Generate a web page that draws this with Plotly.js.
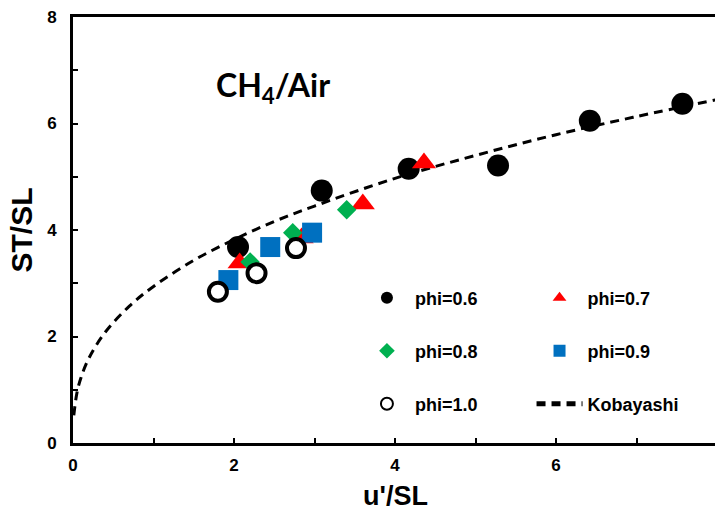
<!DOCTYPE html>
<html>
<head>
<meta charset="utf-8">
<script src="https://cdn.plot.ly/plotly-3.0.1.min.js"></script>
<style>
html,body{margin:0;padding:0;overflow:hidden;background:#fff;}
#chart{width:717px;height:513px;}
</style>
</head>
<body>
<div id="chart"></div>
<script>
// Data
const phi06_x = [2.05, 3.09, 4.17, 5.28, 6.42, 7.57];
const phi06_y = [3.68, 4.74, 5.15, 5.21, 6.05, 6.37];
const phi07_x = [2.07, 2.84, 3.60, 4.36];
const phi07_y = [3.38, 3.85, 4.49, 5.26];
const phi08_x = [2.20, 2.73, 3.40];
const phi08_y = [3.40, 3.95, 4.38];
const phi09_x = [1.93, 2.45, 2.97];
const phi09_y = [3.06, 3.68, 3.95];
const phi10_x = [1.80, 2.28, 2.77];
const phi10_y = [2.84, 3.19, 3.66];
const koba_x = [0.01, 0.05, 0.1, 0.2, 0.4, 0.7, 1.0, 1.5, 2.0, 2.5, 3.0, 4.0, 5.0, 6.0, 7.0, 8.0];
const koba_y = [0.52, 0.95, 1.23, 1.60, 2.08, 2.57, 2.94, 3.43, 3.82, 4.16, 4.45, 4.97, 5.40, 5.79, 6.13, 6.45];
const xTicks = [0, 2, 4, 6, 8];
const yTicks = [0, 2, 4, 6, 8];
const xTitle = "u'/SL";
const yTitle = 'ST/SL';

const traces = [
  {x: koba_x, y: koba_y, name: 'Kobayashi', mode: 'lines', legend: 'legend6', line: {shape: 'spline',
   color: '#000000', width: 3, dash: '9px,6px'}},
  {x: phi06_x, y: phi06_y, name: 'phi=0.6', mode: 'markers', legend: 'legend',
   marker: {symbol: 'circle', size: 22, color: '#000000'}},
  {x: phi07_x, y: phi07_y, name: 'phi=0.7', mode: 'markers', legend: 'legend2',
   marker: {symbol: 'triangle-up', size: 21, color: '#ff0000'}},
  {x: phi08_x, y: phi08_y, name: 'phi=0.8', mode: 'markers', legend: 'legend3',
   marker: {symbol: 'diamond', size: 15, color: '#00b050'}},
  {x: phi09_x, y: phi09_y, name: 'phi=0.9', mode: 'markers', legend: 'legend4',
   marker: {symbol: 'square', size: 20, color: '#0070c0'}},
  {x: phi10_x, y: phi10_y, name: 'phi=1.0', mode: 'markers', legend: 'legend5',
   marker: {symbol: 'circle', size: 18, color: '#ffffff', line: {color: '#000000', width: 4}}}
];

const legFont = {family: 'Liberation Sans, Arial, sans-serif', size: 18, color: '#000', weight: 'bold'};
function leg(x, y) {
  return {orientation: 'v', x: x, y: y, xref: 'paper', yref: 'paper', xanchor: 'left', yanchor: 'middle',
    itemwidth: 46, itemsizing: 'constant',
    font: legFont, bgcolor: 'rgba(0,0,0,0)', borderwidth: 0};
}
const col1 = 0.444, col2 = 0.712;
const row1 = 0.340, row2 = 0.216, row3 = 0.0915;

const tickFont = {family: 'Liberation Sans, Arial, sans-serif', size: 17, color: '#000', weight: 'bold'};
const layout = {
  width: 717, height: 513,
  margin: {l: 73, r: 0, t: 17, b: 70},
  paper_bgcolor: '#fff', plot_bgcolor: '#fff',
  showlegend: true,
  legend: leg(col1, row1),
  legend2: leg(col2, row1),
  legend3: leg(col1, row2),
  legend4: leg(col2, row2),
  legend5: leg(col1, row3),
  legend6: leg(col2, row3),
  xaxis: {
    range: [0, 8], tickvals: xTicks, ticktext: xTicks.map(String),
    showgrid: false, zeroline: false, showline: true, linecolor: '#000', linewidth: 3, mirror: true,
    ticks: 'inside', ticklen: 5, tickwidth: 2, tickcolor: '#000',
    minor: {dtick: 1, tick0: 0, ticks: 'inside', ticklen: 5, tickwidth: 2, tickcolor: '#000', showgrid: false},
    tickfont: tickFont, ticklabelstandoff: 5
  },
  yaxis: {
    range: [0, 8], tickvals: yTicks, ticktext: yTicks.map(String),
    showgrid: false, zeroline: false, showline: true, linecolor: '#000', linewidth: 3, mirror: true,
    ticks: 'inside', ticklen: 5, tickwidth: 2, tickcolor: '#000',
    minor: {dtick: 1, tick0: 0, ticks: 'inside', ticklen: 5, tickwidth: 2, tickcolor: '#000', showgrid: false},
    tickfont: tickFont, ticklabelstandoff: 10,
    title: {text: yTitle, font: {family: 'Liberation Sans, Arial, sans-serif', size: 30, color: '#000', weight: 'bold'}, standoff: 6}
  },
  annotations: [
    {text: 'CH<sub>4</sub>/Air', xref: 'paper', yref: 'paper', x: 0.31, y: 0.835, xanchor: 'center', yanchor: 'middle',
     showarrow: false, font: {family: 'Lato, Carlito, sans-serif', size: 32, color: '#000', weight: 'bold'}},
    {text: xTitle, xref: 'paper', yref: 'paper', x: 0.5, y: -0.1245, xanchor: 'center', yanchor: 'middle',
     showarrow: false, font: {family: 'Liberation Sans, Arial, sans-serif', size: 27, color: '#000', weight: 'bold'}}
  ]
};

Plotly.newPlot('chart', traces, layout, {displayModeBar: false, staticPlot: true});
</script>
</body>
</html>
